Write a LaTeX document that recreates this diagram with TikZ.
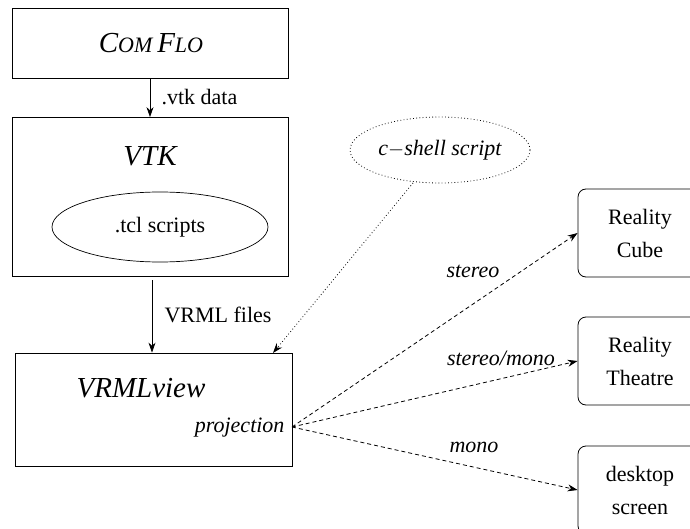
\documentclass[tikz,border=0pt]{standalone}
\usepackage{fontspec}
\setmainfont{Liberation Serif}
\usetikzlibrary{shapes.geometric,arrows.meta}
\begin{document}
\begin{tikzpicture}[x=1pt,y=-1pt,
  box/.style={draw,line width=0.8pt,inner sep=0pt},
  rbox/.style={draw,line width=0.8pt,rounded corners=8pt,minimum width=124pt,minimum height=88pt,align=center,inner sep=0pt,font=\fontsize{22}{33}\selectfont},
  big/.style={font=\fontsize{29}{33}\selectfont\itshape},
  lbl/.style={font=\fontsize{22}{25}\selectfont},
  ilbl/.style={font=\fontsize{22}{25}\selectfont\itshape},
  arr/.style={-{Stealth[length=10pt,width=7pt]},line width=0.7pt},
  dashedarr/.style={arr,line width=0.8pt,dash pattern=on 4pt off 3pt},
  dottedarr/.style={arr,line width=0.8pt,dash pattern=on 0.8pt off 2.4pt}]
\clip (0,0) rectangle (690,529);
% main boxes
\node[box,minimum width=276pt,minimum height=70pt] (comflo) at (150,43) {};
\node[big] (comflotext) at (151,43) {C{\fontsize{22}{25}\selectfont OM}\,F{\fontsize{22}{25}\selectfont LO}};
\node[box,minimum width=276pt,minimum height=159pt] (vtk) at (150,197) {};
\node[big] (vtktext) at (150,156) {VTK};
\node[draw,ellipse,line width=0.7pt,minimum width=216pt,minimum height=70pt,inner sep=0pt,lbl] (tcl) at (160,227) {.tcl scripts};
\node[box,minimum width=277pt,minimum height=113pt] (vrml) at (153.5,409.5) {};
\node[big] (vrmltext) at (141,388) {VRMLview};
\node[ilbl,anchor=east] (proj) at (288,428) {projection};
\coordinate (projpt) at (292,427);
% c-shell ellipse
\node[draw,ellipse,line width=0.8pt,dash pattern=on 0.8pt off 2.4pt,minimum width=180pt,minimum height=66pt,inner sep=0pt,ilbl] (csh) at (440,150) {c\(-\)shell script};
% right boxes
\node[rbox] (cube) at (640,233) {Reality\\Cube};
\node[rbox] (theatre) at (640,361) {Reality\\Theatre};
\node[rbox] (desk) at (640,490) {desktop\\screen};
% connectors
\draw[arr] (comflo.south -| 150,0) -- (vtk.north -| 150,0);
\node[lbl,anchor=west] (vtkdata) at (158,97) {.vtk data};
\coordinate (vrmlstart) at (152,280);
\draw[arr] (vrmlstart) -- (vrml.north -| vrmlstart);
\node[lbl,anchor=west] (vrmlfiles) at (161,315) {VRML files};
\coordinate (cshbot) at (413,183);
\coordinate (vrmltop) at (273,353);
\draw[dottedarr] (cshbot) -- (vrmltop);
\draw[dashedarr] (projpt) -- (cube.west);
\draw[dashedarr] (projpt) -- (theatre.west);
\draw[dashedarr] (projpt) -- (desk.west);
\node[ilbl] (lstereo) at (473,271) {stereo};
\node[ilbl] (lsm) at (501,358) {stereo/mono};
\node[ilbl] (lmono) at (474,447) {mono};
\end{tikzpicture}
\end{document}
